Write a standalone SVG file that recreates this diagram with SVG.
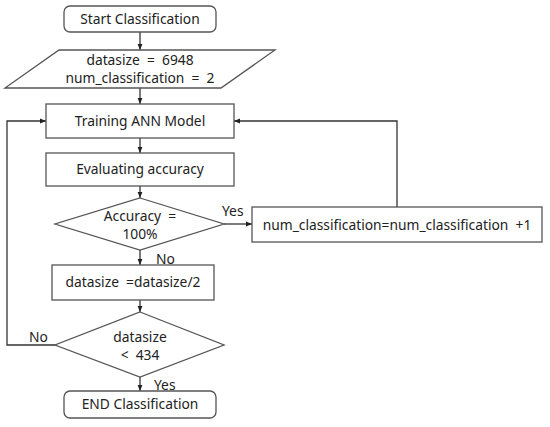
<svg xmlns="http://www.w3.org/2000/svg" width="550" height="427" viewBox="0 0 550 427">
<defs>
<marker id="ah" viewBox="0 0 10 10" refX="10" refY="5" markerWidth="6" markerHeight="6" orient="auto" markerUnits="userSpaceOnUse">
<path d="M0,1 L10,5 L0,9 Z" fill="#222"/>
</marker>
<style>
.s{fill:#fff;stroke:#555;stroke-width:1.3}
.t{font-family:"Noto Sans","Open Sans",sans-serif;font-size:13.8px;fill:#222;text-anchor:middle;white-space:pre}
.l{font-family:"Noto Sans","Open Sans",sans-serif;font-size:13.8px;fill:#222}
.c{fill:none;stroke:#333;stroke-width:1.3;marker-end:url(#ah)}
</style>
</defs>
<rect width="550" height="427" fill="#fff"/>
<g id="connectors">
<line class="c" x1="140" y1="32" x2="140" y2="50"/>
<line class="c" x1="140" y1="88" x2="140" y2="104"/>
<line class="c" x1="140" y1="138" x2="140" y2="153"/>
<line class="c" x1="140" y1="186" x2="140" y2="198"/>
<line class="c" x1="224" y1="224" x2="252" y2="224"/>
<polyline class="c" points="397,207 397,121 234,121"/>
<line class="c" x1="140" y1="250" x2="140" y2="265"/>
<line class="c" x1="140" y1="300" x2="140" y2="312"/>
<polyline class="c" points="55,345 7,345 7,121 46,121"/>
<line class="c" x1="140" y1="377" x2="140" y2="391"/>
<text class="l" x="222" y="216">Yes</text>
<text class="l" x="156" y="264">No</text>
<text class="l" x="29" y="342">No</text>
<text class="l" x="154" y="390">Yes</text>
</g>
<g id="start">
<rect class="s" x="64" y="6" width="152" height="26" rx="6"/>
<text class="t" x="140" y="24">Start Classification</text>
</g>
<g id="init">
<polygon class="s" points="59,50 275,50 221,88 5,88"/>
<text class="t" x="140" y="65">datasize  =  6948</text>
<text class="t" x="140" y="83">num_classification  =  2</text>
</g>
<g id="train">
<rect class="s" x="46" y="104" width="188" height="34"/>
<text class="t" x="140" y="126">Training ANN Model</text>
</g>
<g id="evaluate">
<rect class="s" x="46" y="153" width="188" height="33"/>
<text class="t" x="140" y="174">Evaluating accuracy</text>
</g>
<g id="accuracy">
<polygon class="s" points="140,198 224,224 140,250 55,224"/>
<text class="t" x="140" y="221">Accuracy  =</text>
<text class="t" x="140" y="239">100%</text>
</g>
<g id="increment">
<rect class="s" x="252" y="207" width="290" height="35"/>
<text class="t" x="397" y="230">num_classification=num_classification  +1</text>
</g>
<g id="halve">
<rect class="s" x="52" y="265" width="162" height="35"/>
<text class="t" x="133" y="287">datasize  =datasize/2</text>
</g>
<g id="check">
<polygon class="s" points="140,312 224,345 140,377 55,345"/>
<text class="t" x="140" y="342">datasize</text>
<text class="t" x="140" y="360">&lt;  434</text>
</g>
<g id="end">
<rect class="s" x="64" y="391" width="152" height="27" rx="6"/>
<text class="t" x="140" y="409">END Classification</text>
</g>
</svg>
